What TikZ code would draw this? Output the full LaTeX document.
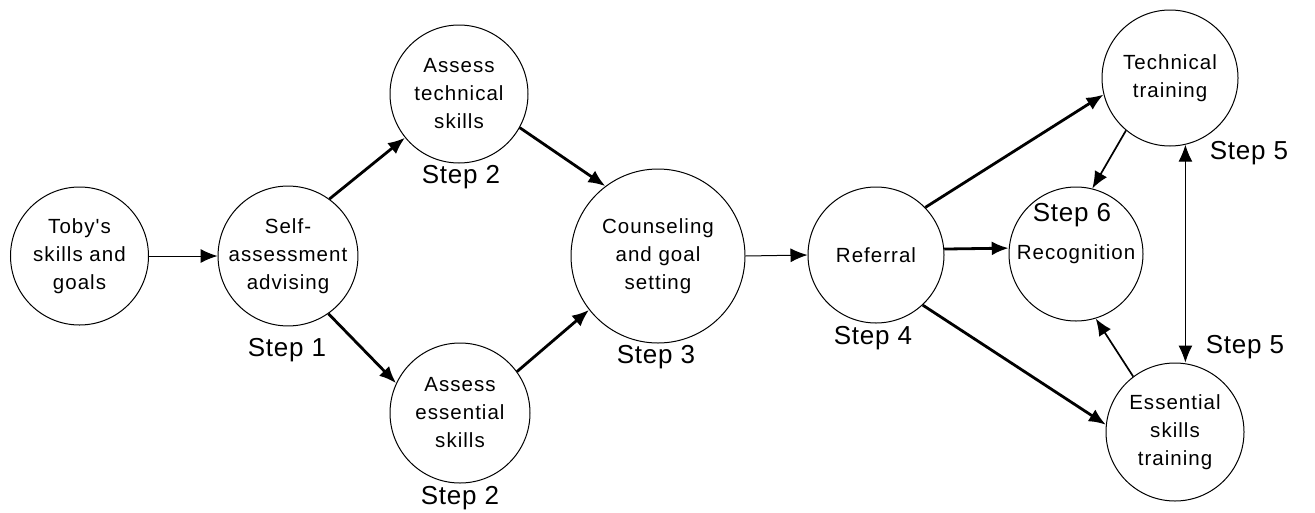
\documentclass[tikz,border=0pt]{standalone}
\usepackage{fontspec}
\setmainfont{Liberation Sans}
\newfontfamily\stagefont[LetterSpace=5]{Liberation Sans}
\newfontfamily\stepfont[LetterSpace=3]{Liberation Sans}
\usetikzlibrary{arrows.meta}

\tikzset{
  stage/.style={circle, draw, line width=1pt, minimum size=138pt, inner sep=0pt,
    align=center, font=\stagefont\fontsize{20.5}{28}\selectfont},
  steplabel/.style={inner sep=0pt, font=\stepfont\fontsize{26}{30}\selectfont},
  flow/.style={->, line width=1pt},
  midflow/.style={->, line width=1.7pt},
  boldflow/.style={->, line width=2.8pt},
}

\begin{document}
\begin{tikzpicture}[>={Latex[length=17pt, width=14pt]}, x=1pt, y=-1pt]

\useasboundingbox (0,0) rectangle (1315,512);

% stages
\node[stage] (toby) at (79.5,256) {Toby's\\skills and\\goals};
\node[stage] (self) at (288,256) {Self-\\assessment\\advising};
\node[stage] (at) at (459,94) {Assess\\technical\\skills};
\node[stage, minimum size=140pt] (ae) at (460,413) {Assess\\essential\\skills};
\node[stage, minimum size=174pt] (cs) at (658,256) {Counseling\\and goal\\setting};
\node[stage, minimum size=136pt] (ref) at (876,255) {Referral};
\node[stage, minimum size=134pt] (rec) at (1076,254) {Recognition};
\node[stage, minimum size=136pt] (tt) at (1170,78) {Technical\\training};
\node[stage] (est) at (1175,432) {Essential\\skills\\training};

% step labels
\node[steplabel] (s1) at (287,350) {Step 1};
\node[steplabel] (s2a) at (461,177) {Step 2};
\node[steplabel] (s2b) at (460,498) {Step 2};
\node[steplabel] (s3) at (656,357) {Step 3};
\node[steplabel] (s4) at (873,338) {Step 4};
\node[steplabel] (s5a) at (1249,153) {Step 5};
\node[steplabel] (s5b) at (1245,347) {Step 5};
\node[steplabel] (s6) at (1072,215) {Step 6};

% connectors
\draw[flow] (toby) -- (self);
\draw[boldflow] (self.54) -- (at.219);
\draw[boldflow] (self.-55) -- (ae.155);
\draw[boldflow] (at.-29) -- (cs.127);
\draw[boldflow] (ae.36) -- (cs.218);
\draw[flow] (cs.east) -- (ref.west);
\draw[boldflow] (ref.44) -- (tt.194);
\draw[boldflow] (ref.5) -- (rec.175);
\draw[boldflow] (ref.-47) -- (est.174);
\draw[midflow] (tt.230) -- (rec.76);
\draw[midflow] (est.127) -- (rec.-73);
\draw[<->, line width=1pt] (tt.-77) -- (tt.-77 |- est.north);

\end{tikzpicture}
\end{document}
